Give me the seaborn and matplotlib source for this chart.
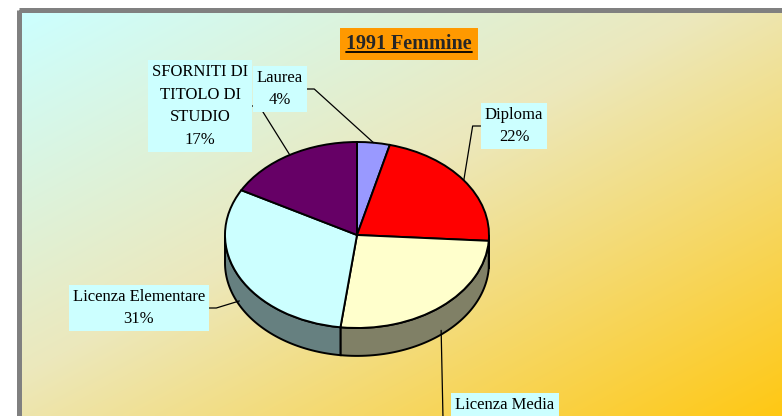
import numpy as np
import matplotlib
matplotlib.use("Agg")
import matplotlib.pyplot as plt
import matplotlib.patches as mpatches
from matplotlib.transforms import Affine2D
import seaborn as sns

sns.set_style("white")
plt.rcParams['font.family'] = ['Liberation Serif', 'DejaVu Serif']

# dati (percentuali, 1991 femmine)
titolo = "1991 Femmine"
categorie = ["Laurea", "Diploma", "Licenza Media", "Licenza Elementare",
             "SFORNITI DI\nTITOLO DI\nSTUDIO"]
valori = [4, 22, 26, 31, 17]
colori = ["#9999FF", "#FF0000", "#FFFFCC", "#CCFFFF", "#660066"]

# posizione etichette (pixel) e lato da cui parte la linea guida
pos_etichette = [(280, 89), (514, 126), (505, 416), (139, 308), (200, 106)]
lato = ["right", "left", "left", "right", "right"]

W, H = 782, 416
fig = plt.figure(figsize=(W / 100, H / 100), dpi=100)
ax = fig.add_axes([0, 0, 1, 1])
ax.set_xlim(0, W)
ax.set_ylim(H, 0)
ax.axis("off")

# sfondo sfumato (ciano -> giallo oro)
xx, yy = np.meshgrid(np.linspace(0, 1, 200), np.linspace(0, 1, 120))
t = 0.5 * xx + 0.5 * yy
stops = [0.0, 0.45, 1.0]
c_r = [204, 236, 255]
c_g = [255, 232, 200]
c_b = [255, 188, 20]
img = np.dstack([np.interp(t, stops, c_r), np.interp(t, stops, c_g),
                 np.interp(t, stops, c_b)]) / 255
ax.imshow(img, extent=(21, W, H, 12), aspect="auto", zorder=0,
          interpolation="bilinear")
ax.add_patch(mpatches.Rectangle((18.5, 9.5), W, H, fill=False,
                                edgecolor="#808080", linewidth=3.6, zorder=1))

# torta 3D: ellisse + spessore
cx, cy, rx, ry, spess = 357, 235, 132, 93, 0.30
pie_tr = Affine2D().scale(rx, -ry).translate(cx, cy)

frac = np.array(valori) / sum(valori)
cum = np.concatenate([[0], np.cumsum(frac)])
scuri = [tuple(0.5 * c for c in matplotlib.colors.to_rgb(col)) for col in colori]

# pareti laterali (solo metà frontale)
for i in range(len(valori)):
    a0 = 90 - 360 * cum[i + 1]
    a1 = 90 - 360 * cum[i]
    lo, hi = max(a0, -180), min(a1, 0)
    if hi <= lo:
        continue
    th = np.radians(np.linspace(lo, hi, 60))
    top = np.column_stack([np.cos(th), np.sin(th)])
    bot = np.column_stack([np.cos(th), np.sin(th) - spess])[::-1]
    poly = pie_tr.transform(np.vstack([top, bot]))
    ax.add_patch(mpatches.Polygon(poly, closed=True, facecolor=scuri[i],
                                  edgecolor="black", linewidth=1.4, zorder=2))

wedges, _ = ax.pie(valori, colors=colori, startangle=90, counterclock=False,
                   radius=1, center=(0, 0),
                   wedgeprops=dict(edgecolor="black", linewidth=1.4))
for w in wedges:
    w.set_transform(pie_tr + ax.transData)
    w.set_zorder(3)
ax.set_xlim(0, W)
ax.set_ylim(H, 0)
ax.set_aspect("auto")

# etichette con linee guida
for i, (lab, v) in enumerate(zip(categorie, valori)):
    tx, ty = pos_etichette[i]
    txt = ax.text(tx, ty, f"{lab}\n{v}%", ha="center", va="center",
                  fontsize=12, linespacing=1.55, color="black", zorder=6,
                  bbox=dict(boxstyle="square,pad=0.25", facecolor="#CCFFFF",
                            edgecolor="none"))
    mid = np.radians(90 - 360 * (cum[i] + cum[i + 1]) / 2)
    px, py = np.cos(mid), np.sin(mid)
    if py < 0:
        py -= spess * 0.85
    ancora = pie_tr.transform([[px, py]])[0]
    fig.canvas.draw()
    bb = txt.get_bbox_patch().get_window_extent()
    bb = bb.transformed(ax.transData.inverted())
    if lato[i] == "right":
        x0 = bb.x1
        x1 = x0 + 7
    else:
        x0 = bb.x0
        x1 = x0 - 8
    y0 = ty if ty < H - 20 else ty + 15
    ax.plot([x0, x1, ancora[0]], [y0, y0, ancora[1]], color="black",
            linewidth=0.9, zorder=4 if i != 4 else 5.5)

# titolo
tt = ax.text(409, 44, titolo, ha="center", va="center", fontsize=14.5,
             fontweight="bold", zorder=6,
             bbox=dict(boxstyle="square,pad=0.3", facecolor="#FF9900",
                       edgecolor="none"))
fig.canvas.draw()
tb = tt.get_window_extent().transformed(ax.transData.inverted())
y_sotto = max(tb.y0, tb.y1) - 2
ax.plot([min(tb.x0, tb.x1), max(tb.x0, tb.x1)], [y_sotto, y_sotto],
        color="black", linewidth=1.3, zorder=7)

fig.savefig("out.png", dpi=100)
